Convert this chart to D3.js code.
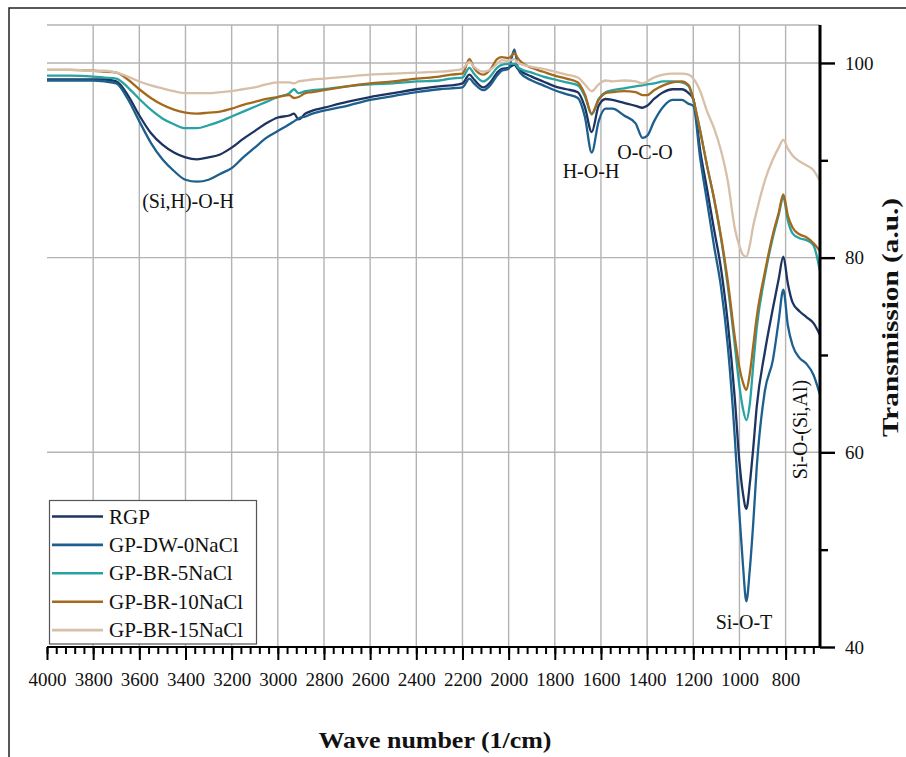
<!DOCTYPE html>
<html>
<head>
<meta charset="utf-8">
<script src="https://cdnjs.cloudflare.com/ajax/libs/d3/7.8.5/d3.min.js"></script>
<style>
  body { margin: 0; background: #fff; }
  text { font-family: "Liberation Serif", "Times New Roman", serif; fill: #111; }
</style>
</head>
<body>
<div id="container"></div>
<script>
// wave numbers (1/cm) the spectra were read at
var waveNumbers = [
  4000, 3900, 3800, 3750, 3700, 3650, 3600, 3550, 3500, 3450, 3400, 3350, 3300, 3250, 3200, 3150, 3100, 3050, 3000,
  2950, 2930, 2910, 2880, 2850, 2800, 2700, 2600, 2500, 2400, 2300, 2250, 2200,
  2170, 2150, 2110, 2080, 2050, 2030, 2000, 1975, 1960, 1950, 1900, 1850, 1800, 1750, 1700,
  1670, 1640, 1610, 1580, 1550, 1500, 1450, 1420, 1400, 1370, 1330, 1290, 1250, 1220, 1200,
  1170, 1140, 1110, 1080, 1050, 1020, 1000, 985, 970, 955, 940, 925, 890, 855, 830, 810, 790, 770, 740, 710, 680, 652
];

var rgp = [
  98.3, 98.3, 98.3, 98.3, 98.1, 96.7, 94.6, 92.8, 91.6, 90.8, 90.3, 90.1, 90.3, 90.6, 91.3, 92.2, 93.0, 93.8, 94.4,
  94.6, 94.8, 94.2, 94.8, 95.1, 95.4, 96.0, 96.5, 96.9, 97.3, 97.6, 97.7, 97.9,
  98.8, 98.3, 97.5, 98.0, 99.0, 99.4, 99.5, 99.8, 99.4, 99.2, 98.6, 98.1, 97.6, 97.3, 97.0,
  95.5, 92.9, 95.6, 96.3, 96.2, 95.9, 95.6, 95.4, 95.6, 96.3, 97.0, 97.3, 97.3, 96.9, 96.3,
  91.0, 87.0, 82.9, 78.9, 73.2, 65.5, 59.0, 55.8, 54.2, 56.8, 60.5, 64.7, 70.3, 74.8, 77.8, 80.1, 77.3, 75.4, 74.5, 73.9, 73.3, 72.1
];
var gpDw0 = [
  98.2, 98.2, 98.2, 98.1, 97.9, 96.3, 94.0, 91.8, 90.1, 88.9, 88.0, 87.8, 88.0, 88.6, 89.2, 90.3, 91.3, 92.3, 93.0,
  93.7, 94.0, 94.3, 94.5, 94.8, 95.1, 95.6, 96.2, 96.6, 97.0, 97.3, 97.4, 97.5,
  98.4, 97.9, 97.2, 97.7, 98.7, 99.2, 99.4, 101.4, 99.5, 99.0, 98.2, 97.7, 97.2, 96.8, 96.4,
  94.5, 90.8, 94.0, 95.3, 95.3, 94.6, 93.8, 92.3, 92.5, 94.0, 95.5, 96.2, 96.2, 95.8, 95.6,
  90.2, 85.7, 81.2, 77.0, 70.8, 61.5, 53.6, 48.5, 44.7, 48.0, 52.8, 58.5, 66.3, 69.5, 73.5, 76.7, 73.0, 71.0, 69.7, 69.1, 68.0, 66.0
];
var gpBr5 = [
  98.7, 98.7, 98.6, 98.5, 98.4, 97.5, 96.3, 95.2, 94.3, 93.7, 93.3, 93.3, 93.6, 94.0, 94.5, 95.0, 95.5, 96.0, 96.5,
  96.9, 97.3, 96.9, 97.1, 97.2, 97.3, 97.6, 97.8, 97.9, 98.1, 98.2, 98.4, 98.5,
  99.5, 98.9, 98.1, 98.6, 99.5, 99.8, 99.9, 99.9, 99.6, 99.4, 99.0, 98.6, 98.3, 98.0, 97.7,
  96.6, 94.7, 96.3, 97.0, 97.2, 97.4, 97.6, 97.7, 97.8, 97.9, 98.1, 98.1, 98.0, 97.6, 96.2,
  93.0, 89.4, 86.0, 82.0, 77.0, 71.0, 66.8, 64.5, 63.3, 65.0, 69.0, 72.8, 78.1, 82.1, 84.4, 86.2, 83.8, 82.5, 82.0, 81.8, 81.3, 78.7
];
var gpBr10 = [
  99.3, 99.3, 99.2, 99.1, 99.0, 98.3, 97.3, 96.4, 95.7, 95.2, 94.9, 94.8, 94.9, 95.0, 95.3, 95.7, 96.0, 96.3, 96.5,
  96.7, 96.4, 96.5, 96.9, 97.0, 97.2, 97.6, 97.9, 98.1, 98.4, 98.6, 98.8, 98.9,
  100.4, 99.5, 98.8, 99.3, 100.4, 100.6, 100.5, 101.0, 100.5, 100.2, 99.5, 99.1, 98.7, 98.4, 98.0,
  96.8, 94.8, 96.2, 96.9, 97.0, 97.1, 97.0, 96.7, 96.7, 97.2, 97.7, 98.0, 98.1, 97.7, 96.3,
  93.0, 89.4, 86.1, 82.2, 77.5, 71.8, 68.7, 67.2, 66.4, 68.1, 71.0, 73.9, 78.5, 82.4, 84.6, 86.5, 84.3, 83.1, 82.4, 82.1, 81.5, 80.7
];
var gpBr15 = [
  99.3, 99.3, 99.2, 99.2, 99.0, 98.6, 98.1, 97.7, 97.4, 97.1, 96.9, 96.9, 96.9, 97.0, 97.1, 97.3, 97.5, 97.8, 98.0,
  98.0, 97.9, 98.1, 98.2, 98.3, 98.4, 98.6, 98.8, 98.9, 99.0, 99.1, 99.2, 99.4,
  100.1, 99.6, 99.1, 99.3, 99.9, 100.3, 100.2, 100.4, 100.0, 99.9, 99.6, 99.4, 99.1, 98.8, 98.5,
  97.8, 97.1, 97.8, 98.2, 98.1, 98.2, 98.1, 97.9, 98.1, 98.5, 98.8, 98.9, 98.9, 98.8, 98.4,
  97.1, 95.0, 93.3, 91.0, 87.8, 83.0, 81.2, 80.3, 80.1, 81.3, 83.3, 84.8, 87.9, 90.1, 91.3, 92.1, 91.2, 90.5, 89.9, 89.5, 89.0, 87.9
];

var seriesNames = ["RGP", "GP-DW-0NaCl", "GP-BR-5NaCl", "GP-BR-10NaCl", "GP-BR-15NaCl"];
var seriesValues = [rgp, gpDw0, gpBr5, gpBr10, gpBr15];
var seriesColors = ["#1d3461", "#1d5f8e", "#26a3a2", "#a5691d", "#d7bfa8"];

var xTickLabels = [4000, 3800, 3600, 3400, 3200, 3000, 2800, 2600, 2400, 2200, 2000, 1800, 1600, 1400, 1200, 1000, 800];
var yTickLabels = [40, 60, 80, 100];
var yMinorTicks = [50, 70, 90];

var bands = [
  { label: "(Si,H)-O-H", x: 188, y: 208 },
  { label: "H-O-H", x: 591, y: 178 },
  { label: "O-C-O", x: 645, y: 159 },
  { label: "Si-O-T", x: 744, y: 629 }
];

var svg = d3
  .select("#container")
  .append("svg")
  .attr("width", 906)
  .attr("height", 757);

var pLeft = 47, pRight = 820, pTop = 25, pBottom = 647;

var x = d3.scaleLinear().domain([4000, 651]).range([pLeft, pRight]);
var y = d3.scaleLinear().domain([40, 103.9]).range([pBottom, pTop]);

// outer frame (only left and top edges show in the picture)
svg.append("path")
  .attr("d", "M9,757 L9,8 L906,8")
  .attr("fill", "none")
  .attr("stroke", "#222")
  .attr("stroke-width", 1.5);

// grid
var grid = svg.append("g").attr("stroke", "#b3b3b3").attr("stroke-width", 1.4);
xTickLabels.slice(1).forEach(function(t) {
  grid.append("line").attr("x1", x(t)).attr("x2", x(t)).attr("y1", pTop).attr("y2", pBottom);
});
yTickLabels.slice(1).forEach(function(t) {
  grid.append("line").attr("x1", pLeft).attr("x2", pRight).attr("y1", y(t)).attr("y2", y(t));
});
grid.append("line").attr("x1", pLeft).attr("x2", pRight).attr("y1", pTop).attr("y2", pTop);

// spectra
var line = d3.line()
  .x(function(d) { return x(d[0]); })
  .y(function(d) { return y(d[1]); })
  .curve(d3.curveMonotoneX);

seriesValues.forEach(function(vals, i) {
  var pts = waveNumbers.map(function(w, k) { return [w, vals[k]]; });
  svg.append("path")
    .datum(pts)
    .attr("d", line)
    .attr("fill", "none")
    .attr("stroke", seriesColors[i])
    .attr("stroke-width", 2.3)
    .attr("stroke-linejoin", "round");
});

// band labels
bands.forEach(function(b) {
  svg.append("text")
    .attr("x", b.x)
    .attr("y", b.y)
    .attr("text-anchor", "middle")
    .style("font-size", "20px")
    .text(b.label);
});
svg.append("text")
  .attr("transform", "translate(807,429.5) rotate(-90)")
  .attr("text-anchor", "middle")
  .style("font-size", "20px")
  .text("Si-O-(Si,Al)");

// bottom axis
var xMinor = d3.range(4000, 651, -40);
var xAxisMinor = d3.axisBottom(x).tickValues(xMinor).tickSize(7).tickFormat("");
var xAxis = d3.axisBottom(x).tickValues(xTickLabels).tickSize(13).tickPadding(13).tickFormat(d3.format("d"));

var gxm = svg.append("g").attr("transform", "translate(0," + pBottom + ")").call(xAxisMinor);
var gx = svg.append("g").attr("transform", "translate(0," + pBottom + ")").call(xAxis);
[gxm, gx].forEach(function(g) {
  g.attr("font-family", "Liberation Serif").attr("font-size", 19);
  g.select(".domain").attr("stroke", "#000").attr("stroke-width", 2.2).attr("d", "M" + pLeft + ",0H" + pRight);
  g.selectAll(".tick line").attr("stroke", "#000").attr("stroke-width", 2);
});
gx.selectAll(".tick text").attr("fill", "#111");

// right axis
var yAxisMinor = d3.axisRight(y).tickValues(yMinorTicks).tickSize(8).tickFormat("");
var yAxis = d3.axisRight(y).tickValues(yTickLabels).tickSize(15).tickPadding(10).tickFormat(d3.format("d"));
var gym = svg.append("g").attr("transform", "translate(" + pRight + ",0)").call(yAxisMinor);
var gy = svg.append("g").attr("transform", "translate(" + pRight + ",0)").call(yAxis);
[gym, gy].forEach(function(g) {
  g.attr("font-family", "Liberation Serif").attr("font-size", 19);
  g.select(".domain").attr("stroke", "#000").attr("stroke-width", 2.6).attr("d", "M0," + pTop + "V" + pBottom);
  g.selectAll(".tick line").attr("stroke", "#000").attr("stroke-width", 2.4);
});
gy.selectAll(".tick text").attr("fill", "#111");

// axis titles
svg.append("text")
  .attr("x", 435)
  .attr("y", 748)
  .attr("text-anchor", "middle")
  .attr("textLength", 233)
  .attr("lengthAdjust", "spacingAndGlyphs")
  .style("font-size", "24px")
  .style("font-weight", "bold")
  .text("Wave number (1/cm)");
svg.append("text")
  .attr("transform", "translate(897.5,317.5) rotate(-90)")
  .attr("text-anchor", "middle")
  .attr("textLength", 239)
  .attr("lengthAdjust", "spacingAndGlyphs")
  .style("font-size", "24px")
  .style("font-weight", "bold")
  .text("Transmission (a.u.)");

// legend
var legend = svg.append("g");
legend.append("rect")
  .attr("x", 49.5).attr("y", 500.5)
  .attr("width", 207).attr("height", 143.5)
  .attr("fill", "#fff")
  .attr("stroke", "#555")
  .attr("stroke-width", 1.2);
seriesNames.forEach(function(name, i) {
  var ly = 516.5 + i * 28.4;
  legend.append("line")
    .attr("x1", 52).attr("x2", 103)
    .attr("y1", ly).attr("y2", ly)
    .attr("stroke", seriesColors[i])
    .attr("stroke-width", 2.6);
  legend.append("text")
    .attr("x", 109)
    .attr("y", ly + 7)
    .style("font-size", "21px")
    .text(name);
});
</script>
</body>
</html>
